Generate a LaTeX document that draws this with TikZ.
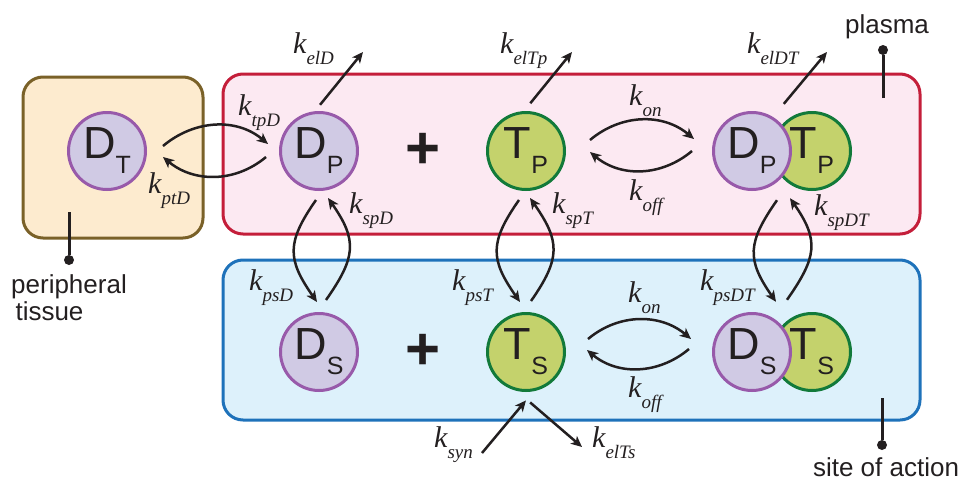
\documentclass[tikz,border=0pt]{standalone}
\usepackage{fontspec}
\newfontfamily\arial{Liberation Sans}
\newfontfamily\kfont{Liberation Serif}
\usetikzlibrary{arrows.meta,fit}

\definecolor{perFill}{RGB}{253,235,207}
\definecolor{perDraw}{RGB}{122,97,40}
\definecolor{plFill}{RGB}{252,233,242}
\definecolor{plDraw}{RGB}{196,30,58}
\definecolor{siFill}{RGB}{221,241,251}
\definecolor{siDraw}{RGB}{30,114,186}
\definecolor{dFill}{RGB}{208,202,228}
\definecolor{dDraw}{RGB}{152,90,170}
\definecolor{tFill}{RGB}{196,210,108}
\definecolor{tDraw}{RGB}{18,122,58}
\definecolor{txtc}{RGB}{35,31,32}

% rate constant and species labels
\newcommand{\kr}[1]{\textit{k}\raisebox{-11pt}{\fontsize{19}{19}\selectfont\textit{#1}}}
\newcommand{\cpd}[2]{#1\raisebox{-15pt}{\fontsize{25}{25}\selectfont #2}}

\begin{document}
\begin{tikzpicture}[x=1pt,y=1pt,>={Stealth[length=11pt,width=10pt,inset=3pt]},
  comp/.style={line width=3pt,rounded corners=20pt},
  dmol/.style={circle,draw=dDraw,fill=dFill,line width=3pt,minimum size=77pt,inner sep=0pt,
    font=\arial\fontsize{45}{45}\selectfont,text=txtc},
  tmol/.style={dmol,draw=tDraw,fill=tFill},
  plus/.style={font=\arial\bfseries\fontsize{60}{60}\selectfont,text=txtc,inner sep=0pt},
  kl/.style={anchor=base west,inner sep=0pt,font=\kfont\itshape\fontsize{30}{30}\selectfont,text=txtc},
  txt/.style={inner sep=0pt,font=\arial\fontsize{26}{27}\selectfont,text=txtc},
  arr/.style={->,line width=2.5pt,draw=txtc},
  pinline/.style={line width=3pt,draw=txtc},
  dot/.style={circle,fill=txtc,inner sep=0pt,minimum size=10pt}]
\useasboundingbox (0,0) rectangle (966,-482);
% compartments
\draw[comp,draw=perDraw,fill=perFill] (23,-77) rectangle (203,-238);
\draw[comp,draw=plDraw,fill=plFill] (223,-74) rectangle (920,-234);
\draw[comp,draw=siDraw,fill=siFill] (223,-260) rectangle (920,-420);
% species: peripheral and plasma
\node[dmol] (DT) at (107,-151) {\cpd{D}{T}};
\node[dmol] (DP) at (319,-151) {\cpd{D}{P}};
\node[plus] (plusP) at (423,-151) {+};
\node[tmol] (TP) at (526,-151) {\cpd{T}{P}};
\node[tmol] (TPc) at (812,-151) {\cpd{T}{P}};
\node[dmol] (DPc) at (752,-151) {\cpd{D}{P}};
\node[fit=(DPc)(TPc),inner sep=0pt] (CP) {};
% species: site of action
\node[dmol] (DS) at (319,-352) {\cpd{D}{S}};
\node[plus] (plusS) at (423,-352) {+};
\node[tmol] (TS) at (526,-352) {\cpd{T}{S}};
\node[tmol] (TSc) at (812,-352) {\cpd{T}{S}};
\node[dmol] (DSc) at (752,-352) {\cpd{D}{S}};
\node[fit=(DSc)(TSc),inner sep=0pt] (CS) {};
% distribution plasma <-> peripheral tissue
\draw[arr] ([shift={(16,5)}]DT.east) to[out=40,in=140] ([shift={(-11,7)}]DP.west);
\draw[arr] ([shift={(-13,-6)}]DP.west) to[out=-140,in=-40] ([shift={(16,-6)}]DT.east);
\node[kl] (ktpD) at (238,-115) {\kr{tpD}};
\node[kl] (kptD) at (148,-193) {\kr{ptD}};
% binding in plasma
\draw[arr] ([shift={(24,11)}]TP.east) to[out=40,in=140] ([shift={(-18,12)}]DPc.west);
\draw[arr] ([shift={(-20,0)}]DPc.west) to[out=-140,in=-40] ([shift={(24,-1)}]TP.east);
\node[kl] (konP) at (629,-105) {\kr{on}};
\node[kl] (koffP) at (629,-200) {\kr{off}};
% binding at site of action
\draw[arr] ([shift={(22,13)}]TS.east) to[out=40,in=140] ([shift={(-21,13)}]DSc.west);
\draw[arr] ([shift={(-23,3)}]DSc.west) to[out=-140,in=-40] ([shift={(21,2)}]TS.east);
\node[kl] (konS) at (628,-302) {\kr{on}};
\node[kl] (koffS) at (628,-397) {\kr{off}};
% plasma <-> site of action
\draw[arr] ([shift={(-3,-9)}]DP.south) to[out=-125,in=125,looseness=1.3] ([shift={(-2,10)}]DS.north);
\draw[arr] ([shift={(7,12)}]DS.north) to[out=55,in=-55,looseness=1.3] ([shift={(9,-7)}]DP.south);
\draw[arr] ([shift={(-7,-9)}]TP.south) to[out=-125,in=125,looseness=1.3] ([shift={(-6,10)}]TS.north);
\draw[arr] ([shift={(5,11)}]TS.north) to[out=55,in=-55,looseness=1.3] ([shift={(4,-7)}]TP.south);
\draw[arr] ([shift={(-5,-9)}]CP.south) to[out=-125,in=125,looseness=1.3] ([shift={(-6,10)}]CS.north);
\draw[arr] ([shift={(5,12)}]CS.north) to[out=55,in=-55,looseness=1.3] ([shift={(8,-7)}]CP.south);
\node[kl] (kspD) at (349,-213) {\kr{spD}};
\node[kl] (kpsD) at (249,-290) {\kr{psD}};
\node[kl] (kspT) at (552,-213) {\kr{spT}};
\node[kl] (kpsT) at (452,-290) {\kr{psT}};
\node[kl] (kspDT) at (814,-215) {\kr{spDT}};
\node[kl] (kpsDT) at (700,-290) {\kr{psDT}};
% elimination and synthesis
\coordinate (elD) at (363,-52);
\coordinate (elTp) at (572,-52);
\coordinate (elDT) at (827,-52);
\draw[arr,shorten <=8pt] ([xshift=-4]DP.north) -- (elD);
\draw[arr,shorten <=10pt] ([xshift=-2]TP.north) -- (elTp);
\draw[arr,shorten <=9pt] ([xshift=-4]CP.north) -- (elDT);
\node[kl] (kelD) at (293,-53) {\kr{elD}};
\node[kl] (kelTp) at (500,-53) {\kr{elTp}};
\node[kl] (kelDT) at (747,-53) {\kr{elDT}};
\coordinate (syn) at (482,-453);
\coordinate (elTs) at (582,-447);
\draw[arr,shorten >=11pt] (syn) -- ([xshift=7]TS.south);
\draw[arr,shorten <=16pt] ([xshift=-8]TS.south) -- (elTs);
\node[kl] (ksyn) at (434,-447) {\kr{syn}};
\node[kl] (kelTs) at (592,-447) {\kr{elTs}};
% compartment labels
\node[dot] (plDot) at (883,-50) {};
\coordinate (plBase) at (883,-98);
\draw[pinline] (plBase) -- (plDot);
\node[txt,anchor=base] (plLab) at (887,-33) {plasma};
\node[dot] (siDot) at (882,-445) {};
\coordinate (siBase) at (882,-398);
\draw[pinline] (siBase) -- (siDot);
\node[txt,anchor=base] (siLab) at (886,-476) {site of action};
\node[dot] (peDot) at (69,-260) {};
\coordinate (peBase) at (69,-212);
\draw[pinline] (peBase) -- (peDot);
\node[txt,anchor=north west,align=left] (peLab) at (11,-274) {peripheral\\\,tissue};
\end{tikzpicture}
\end{document}
